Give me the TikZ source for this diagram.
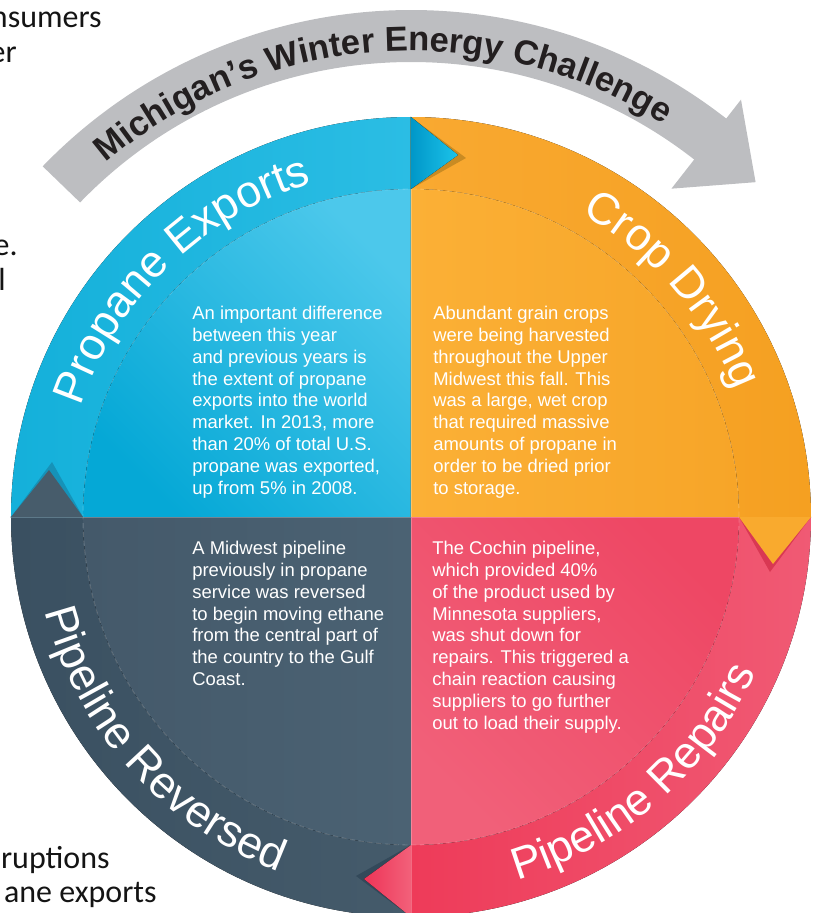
\documentclass[tikz,border=0pt]{standalone}
\usepackage{fontspec}
\setmainfont{Liberation Sans}
\newfontfamily\slidefont{Carlito}
\usepackage{tikz}
\usetikzlibrary{positioning, decorations.text}

\definecolor{arrowgray}{HTML}{BDBEC1}
\definecolor{titleink}{HTML}{231F20}
% ring quarters
\definecolor{blueringA}{HTML}{14B0DA}
\definecolor{blueringB}{HTML}{2BBDE4}
\definecolor{orangeringA}{HTML}{F9A931}
\definecolor{orangeringB}{HTML}{F5A021}
\definecolor{redringA}{HTML}{EE3B59}
\definecolor{redringB}{HTML}{F05A74}
\definecolor{slateringA}{HTML}{3A5061}
\definecolor{slateringB}{HTML}{455B6B}
% inner quarters
\definecolor{blueinA}{HTML}{4CC8EB}
\definecolor{blueinB}{HTML}{05A8D6}
\definecolor{orangeinA}{HTML}{FBB036}
\definecolor{orangeinB}{HTML}{F7A528}
\definecolor{redinA}{HTML}{EE4764}
\definecolor{redinB}{HTML}{F16079}
\definecolor{slateinA}{HTML}{44596A}
\definecolor{slateinB}{HTML}{4B6273}
% tabs
\definecolor{bluetabA}{HTML}{0097C8}
\definecolor{bluetabB}{HTML}{1CC3EA}
\definecolor{bluetabshadow}{HTML}{C98B23}
\definecolor{orangetab}{HTML}{F9AA2E}
\definecolor{orangetabshadow}{HTML}{D93853}
\definecolor{redtabA}{HTML}{EE3457}
\definecolor{redtabB}{HTML}{F2617A}
\definecolor{redtabshadow}{HTML}{33495A}
\definecolor{slatetab}{HTML}{475C6B}
\definecolor{slatetabshadow}{HTML}{1692B8}

\begin{document}
\begin{tikzpicture}[
    scale=0.02,
    bodytext/.style={anchor=north west, align=left, inner sep=0pt, text=white,
        font=\fontsize{10.5}{12.4}\selectfont},
    slidetext/.style={anchor=base east, inner sep=0pt, text=black!92,
        font=\slidefont\fontsize{18.2}{22}\selectfont},
    ringlabel/.style={decorate, decoration={text along path, text align=center,
        text color=white, text={|\fontsize{25.5}{26}\selectfont|#1}}}
]
    \useasboundingbox (-411,-396) rectangle (406,517);
    \clip (-411,-396) rectangle (406,517);

    % Slide text behind
    \node[slidetext] (cons) at (-309,489) {nsumers};
    \node[slidetext] (er) at (-394,454) {er};
    \node[slidetext] (edot) at (-393,262) {e.};
    \node[slidetext] (ll) at (-405,227) {l};
    \node[slidetext] (rupt) at (-301,-351) {ruptions};
    \node[slidetext] (expo) at (-254,-385) {ane exports};

    % Outer ring quarters
    \fill[left color=blueringA, right color=blueringB] (0,0) -- (90:400) arc[start angle=90, end angle=180, radius=400] -- cycle;
    \fill[left color=orangeringA, right color=orangeringB] (0,0) -- (0:400) arc[start angle=0, end angle=90, radius=400] -- cycle;
    \fill[left color=redringA, right color=redringB] (0,0) -- (-90:400) arc[start angle=-90, end angle=0, radius=400] -- cycle;
    \fill[left color=slateringA, right color=slateringB] (0,0) -- (180:400) arc[start angle=180, end angle=270, radius=400] -- cycle;

    % Inner quarters
    \fill[left color=blueinA, right color=blueinB, shading angle=-45] (0,0) -- (90:328) arc[start angle=90, end angle=180, radius=328] -- cycle;
    \fill[left color=orangeinA, right color=orangeinB] (0,0) -- (0:328) arc[start angle=0, end angle=90, radius=328] -- cycle;
    \fill[left color=redinA, right color=redinB, shading angle=-45] (0,0) -- (-90:328) arc[start angle=-90, end angle=0, radius=328] -- cycle;
    \fill[left color=slateinA, right color=slateinB] (0,0) -- (180:328) arc[start angle=180, end angle=270, radius=328] -- cycle;

    % Faint seams
    \draw[white, opacity=0.2, line width=0.5pt, densely dashed] (0,0) circle[radius=328];
    \draw[white, opacity=0.25, line width=0.4pt] (-400,0) -- (400,0) (0,-400) -- (0,400);

    % Tabs between quarters
    \fill[bluetabshadow] (0,400) -- (55,359) -- (0,328) -- cycle;
    \fill[left color=bluetabA, right color=bluetabB] (0,400) -- (47,362) -- (0,328) -- cycle;
    \fill[orangetabshadow] (400,0) -- (359,-55) -- (328,0) -- cycle;
    \fill[orangetab] (400,0) -- (362,-47) -- (328,0) -- cycle;
    \fill[redtabshadow] (0,-400) -- (-55,-359) -- (0,-328) -- cycle;
    \fill[left color=redtabA, right color=redtabB] (0,-400) -- (-47,-362) -- (0,-328) -- cycle;
    \fill[slatetabshadow] (-400,0) -- (-359,55) -- (-328,0) -- cycle;
    \fill[slatetab] (-400,0) -- (-362,47) -- (-328,0) -- cycle;

    % Ring labels
    \path[ringlabel={Propane Exports}] (179:348) arc[start angle=179, end angle=89, radius=348];
    \path[ringlabel={Crop Drying}] (86:348) arc[start angle=86, end angle=-4, radius=348];
    \path[ringlabel={Pipeline Repairs}] (-94:378) arc[start angle=-94, end angle=-4, radius=378];
    \path[ringlabel={Pipeline Reversed}] (177:378) arc[start angle=177, end angle=267, radius=378];

    % Title arrow
    \begin{scope}[shift={(0,-5)}]
        \fill[arrowgray] (136:512) arc[start angle=136, end angle=52, radius=512]
            -- (52:536) -- (44.6:484) -- (52:423) -- (52:460)
            arc[start angle=52, end angle=136, radius=460] -- cycle;
        \path[decorate, decoration={text along path, text align=center,
            text={|\bfseries\fontsize{19.7}{20}\selectfont\color{titleink}|Michigan’s Winter Energy Challenge}}]
            (139:471) arc[start angle=139, end angle=49, radius=471];
    \end{scope}

    % Quarter texts
    \node[bodytext] (exports) at (-219,211) {An important difference\\between this year\\and previous years is\\the extent of propane\\exports into the world\\market. In 2013, more\\than 20\% of total U.S.\\propane was exported,\\up from 5\% in 2008.};
    \node[bodytext] (drying) at (22,211) {Abundant grain crops\\were being harvested\\throughout the Upper\\Midwest this fall. This\\was a large, wet crop\\that required massive\\amounts of propane in\\order to be dried prior\\to storage.};
    \node[bodytext] (reversed) at (-219,-24) {A Midwest pipeline\\previously in propane\\service was reversed\\to begin moving ethane\\from the central part of\\the country to the Gulf\\Coast.};
    \node[bodytext] (repairs) at (21,-24) {The Cochin pipeline,\\which provided 40\%\\of the product used by\\Minnesota suppliers,\\was shut down for\\repairs. This triggered a\\chain reaction causing\\suppliers to go further\\out to load their supply.};
\end{tikzpicture}
\end{document}
